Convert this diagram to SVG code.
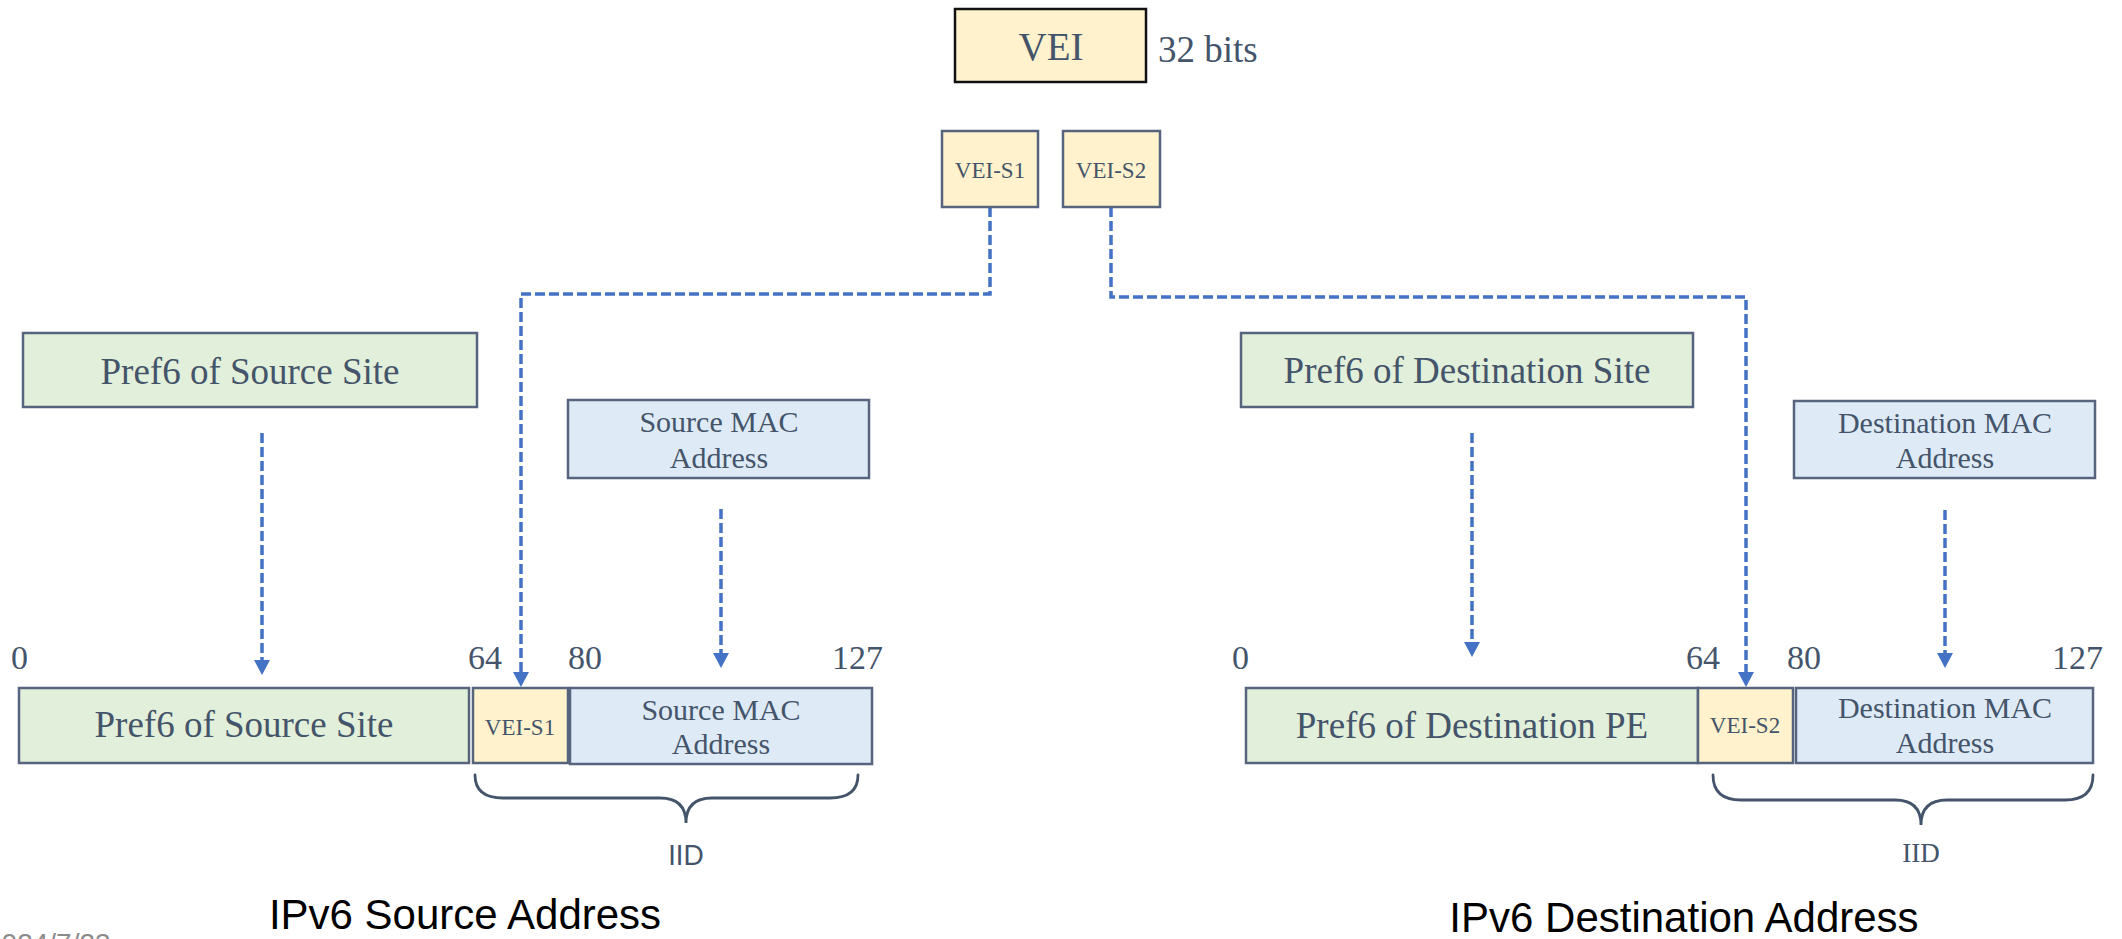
<svg xmlns="http://www.w3.org/2000/svg" width="2122" height="939" viewBox="0 0 2122 939">
  <style>
    .bg { fill: #ffffff; }
    .green { fill: #e2efda; stroke: #56647e; stroke-width: 2.5; }
    .blue { fill: #deebf7; stroke: #56647e; stroke-width: 2.5; }
    .yellow { fill: #fff2cc; stroke: #56647e; stroke-width: 2.5; }
    .yellowK { fill: #fff2cc; stroke: #111111; stroke-width: 2.5; }
    .serif { font-family: "Liberation Serif", "Times New Roman", serif; fill: #44546a; }
    .big { font-size: 37px; }
    .num { font-size: 34px; }
    .mac { font-size: 30px; }
    .small { font-size: 23px; }
    .title { font-family: "Liberation Sans", Arial, sans-serif; font-size: 42px; fill: #000000; }
    .conn { fill: none; stroke: #4472c4; stroke-width: 3.5; stroke-dasharray: 10 4; }
    .brace { fill: none; stroke: #44546a; stroke-width: 2.8; stroke-linecap: round; }
  </style>
  <defs>
    <marker id="ah" markerUnits="userSpaceOnUse" markerWidth="18" markerHeight="18" refX="10" refY="8" orient="auto">
      <path d="M0,0 L15,8 L0,16 z" fill="#4472c4"/>
    </marker>
  </defs>
  <rect class="bg" x="0" y="0" width="2122" height="939"/>

  <g id="connectors">
    <path class="conn" d="M990,207 V294 H521 V682" marker-end="url(#ah)"/>
    <path class="conn" d="M1111,207 V297 H1746 V682" marker-end="url(#ah)"/>
    <path class="conn" d="M262,433 V670" marker-end="url(#ah)"/>
    <path class="conn" d="M721,509 V663" marker-end="url(#ah)"/>
    <path class="conn" d="M1472,433 V652" marker-end="url(#ah)"/>
    <path class="conn" d="M1945,510 V663" marker-end="url(#ah)"/>
  </g>

  <g id="vei">
    <rect class="yellowK" x="955" y="9" width="191" height="73"/>
    <text class="serif" x="1051" y="60" font-size="39" text-anchor="middle">VEI</text>
    <text class="serif big" x="1158" y="62">32 bits</text>
  </g>
  <g id="vei-s1">
    <rect class="yellow" x="942" y="131" width="96" height="76"/>
    <text class="serif small" x="990" y="178" text-anchor="middle">VEI-S1</text>
  </g>
  <g id="vei-s2">
    <rect class="yellow" x="1063" y="131" width="97" height="76"/>
    <text class="serif small" x="1111" y="178" text-anchor="middle">VEI-S2</text>
  </g>

  <g id="src-site">
    <rect class="green" x="23" y="333" width="454" height="74"/>
    <text class="serif big" x="250" y="384" text-anchor="middle">Pref6 of Source Site</text>
  </g>
  <g id="src-mac">
    <rect class="blue" x="568" y="400" width="301" height="78"/>
    <text class="serif mac" x="719" y="432" text-anchor="middle">Source MAC</text>
    <text class="serif mac" x="719" y="468" text-anchor="middle">Address</text>
  </g>

  <g id="src-bits">
    <text class="serif num" x="11" y="669">0</text>
    <text class="serif num" x="468" y="669">64</text>
    <text class="serif num" x="568" y="669">80</text>
    <text class="serif num" x="832" y="669">127</text>
  </g>
  <g id="src-row-prefix">
    <rect class="green" x="19" y="688" width="450" height="75"/>
    <text class="serif big" x="244" y="737" text-anchor="middle">Pref6 of Source Site</text>
  </g>
  <g id="src-row-vei">
    <rect class="yellow" x="473" y="688" width="95" height="75"/>
    <text class="serif small" x="520" y="735" text-anchor="middle">VEI-S1</text>
  </g>
  <g id="src-row-mac">
    <rect class="blue" x="570" y="688" width="302" height="76"/>
    <text class="serif mac" x="721" y="720" text-anchor="middle">Source MAC</text>
    <text class="serif mac" x="721" y="754" text-anchor="middle">Address</text>
  </g>
  <g id="src-iid">
    <path class="brace" d="M475,775 Q475,798 503,798 L660,798 Q686,798 686,823 Q686,798 712,798 L830,798 Q858,798 858,775"/>
    <text x="686" y="865" font-family="Lato, 'Open Sans', sans-serif" font-size="27" fill="#44546a" text-anchor="middle">IID</text>
  </g>
  <text class="title" x="465" y="929" text-anchor="middle">IPv6 Source Address</text>

  <g id="dst-site">
    <rect class="green" x="1241" y="333" width="452" height="74"/>
    <text class="serif big" x="1467" y="383" text-anchor="middle">Pref6 of Destination Site</text>
  </g>
  <g id="dst-mac">
    <rect class="blue" x="1794" y="401" width="301" height="77"/>
    <text class="serif mac" x="1945" y="433" text-anchor="middle">Destination MAC</text>
    <text class="serif mac" x="1945" y="468" text-anchor="middle">Address</text>
  </g>

  <g id="dst-bits">
    <text class="serif num" x="1232" y="669">0</text>
    <text class="serif num" x="1686" y="669">64</text>
    <text class="serif num" x="1787" y="669">80</text>
    <text class="serif num" x="2052" y="669">127</text>
  </g>
  <g id="dst-row-prefix">
    <rect class="green" x="1246" y="688" width="452" height="75"/>
    <text class="serif big" x="1472" y="738" text-anchor="middle">Pref6 of Destination PE</text>
  </g>
  <g id="dst-row-vei">
    <rect class="yellow" x="1698" y="688" width="95" height="75"/>
    <text class="serif small" x="1745" y="733" text-anchor="middle">VEI-S2</text>
  </g>
  <g id="dst-row-mac">
    <rect class="blue" x="1796" y="688" width="297" height="75"/>
    <text class="serif mac" x="1945" y="718" text-anchor="middle">Destination MAC</text>
    <text class="serif mac" x="1945" y="753" text-anchor="middle">Address</text>
  </g>
  <g id="dst-iid">
    <path class="brace" d="M1713,775 Q1713,800 1741,800 L1895,800 Q1921,800 1921,825 Q1921,800 1947,800 L2065,800 Q2093,800 2093,775"/>
    <text class="serif" x="1921" y="862" font-size="27" text-anchor="middle">IID</text>
  </g>
  <text class="title" x="1684" y="932" text-anchor="middle">IPv6 Destination Address</text>

  <text x="-14" y="953" font-family="Liberation Sans, Arial, sans-serif" font-size="28" fill="#8c8c8c">2024/7/23</text>
</svg>
